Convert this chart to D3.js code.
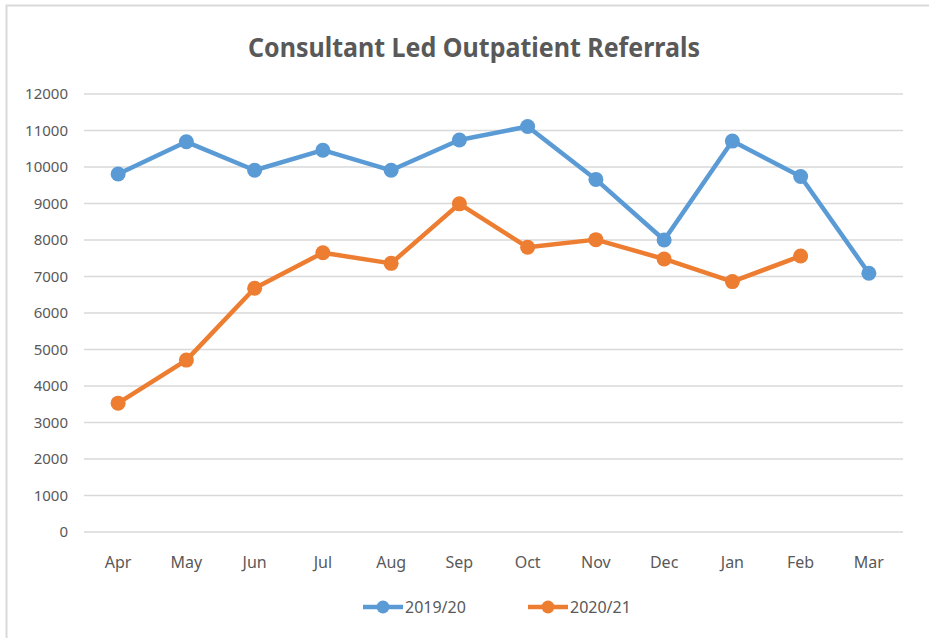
<!DOCTYPE html>
<html>
<head>
<meta charset="utf-8">
<script src="https://cdn.jsdelivr.net/npm/d3@7"></script>
<style>
  body { margin: 0; background: #fff; }
  text { font-family: "Noto Sans", "DejaVu Sans", sans-serif; fill: #595959; }
</style>
</head>
<body>
<div id="chart"></div>
<script>
// Chart data
const months = ["Apr", "May", "Jun", "Jul", "Aug", "Sep", "Oct", "Nov", "Dec", "Jan", "Feb", "Mar"];
const series2019 = [9810, 10690, 9910, 10460, 9910, 10740, 11110, 9660, 8000, 10710, 9740, 7090];
const series2020 = [3530, 4710, 6680, 7650, 7360, 8990, 7800, 8010, 7480, 6860, 7560, null];
const yTicks = [0, 1000, 2000, 3000, 4000, 5000, 6000, 7000, 8000, 9000, 10000, 11000, 12000];
const seriesNames = ["2019/20", "2020/21"];
const colors = ["#5B9BD5", "#ED7D31"];

const W = 929, H = 638;
let margin = {top: 94, right: 26, bottom: 106, left: 84};
let width = W - margin.left - margin.right;
let height = H - margin.top - margin.bottom;

let svg = d3.select("#chart").append("svg")
    .attr("width", W)
    .attr("height", H);

// Light chart border (top and left edges visible)
svg.append("path")
    .attr("d", "M6.5,638 V5.5 H929")
    .attr("fill", "none")
    .attr("stroke", "#d9d9d9")
    .attr("stroke-width", 2);

// Title
svg.append("text")
    .attr("x", 474)
    .attr("y", 57)
    .attr("text-anchor", "middle")
    .attr("font-size", 27)
    .attr("font-weight", "bold")
    .attr("textLength", 452)
    .attr("lengthAdjust", "spacingAndGlyphs")
    .text("Consultant Led Outpatient Referrals");

let g = svg.append("g")
    .attr("transform", `translate(${margin.left},${margin.top})`);

const xScale = d3.scaleBand().domain(months).range([0, width]);
const yScale = d3.scaleLinear().domain([0, 12000]).range([height, 0]);

// Gridlines
g.append("g")
    .selectAll("line")
    .data(yTicks)
    .join("line")
    .attr("x1", 0)
    .attr("x2", width)
    .attr("y1", d => yScale(d))
    .attr("y2", d => yScale(d))
    .attr("stroke", "#d9d9d9")
    .attr("stroke-width", 1.5);

// Y axis labels
const yAxis = d3.axisLeft(yScale).tickValues(yTicks).tickFormat(d3.format("d"))
    .tickSize(0).tickPadding(16);
g.append("g")
    .attr("class", "y-axis")
    .call(yAxis)
    .call(a => a.select(".domain").remove())
    .selectAll("text")
    .attr("font-size", 15)
    .attr("fill", "#595959");

// X axis labels
const xAxis = d3.axisBottom(xScale).tickSize(0).tickPadding(25);
g.append("g")
    .attr("class", "x-axis")
    .attr("transform", `translate(0,${height})`)
    .call(xAxis)
    .call(a => a.select(".domain").remove())
    .selectAll("text")
    .attr("font-size", 16)
    .attr("fill", "#595959");

const cx = m => xScale(m) + xScale.bandwidth() / 2;

const line = d3.line()
    .defined(d => d.v != null)
    .x(d => cx(d.m))
    .y(d => yScale(d.v));

[series2019, series2020].forEach((vals, i) => {
    const data = months.map((m, j) => ({m: m, v: vals[j]}));
    g.append("path")
        .datum(data)
        .attr("fill", "none")
        .attr("stroke", colors[i])
        .attr("stroke-width", 4.5)
        .attr("stroke-linejoin", "round")
        .attr("d", line);
    g.append("g")
        .selectAll("circle")
        .data(data.filter(d => d.v != null))
        .join("circle")
        .attr("cx", d => cx(d.m))
        .attr("cy", d => yScale(d.v))
        .attr("r", 7.5)
        .attr("fill", colors[i]);
});

// Legend
const legendX = [363, 528];
seriesNames.forEach((name, i) => {
    let lg = svg.append("g").attr("transform", `translate(${legendX[i]},607)`);
    lg.append("line")
        .attr("x1", 0).attr("x2", 40)
        .attr("stroke", colors[i])
        .attr("stroke-width", 4.5);
    lg.append("circle")
        .attr("cx", 20).attr("r", 6.5)
        .attr("fill", colors[i]);
    lg.append("text")
        .attr("x", 42)
        .attr("dy", "0.35em")
        .attr("font-size", 16)
        .text(name);
});
</script>
</body>
</html>
